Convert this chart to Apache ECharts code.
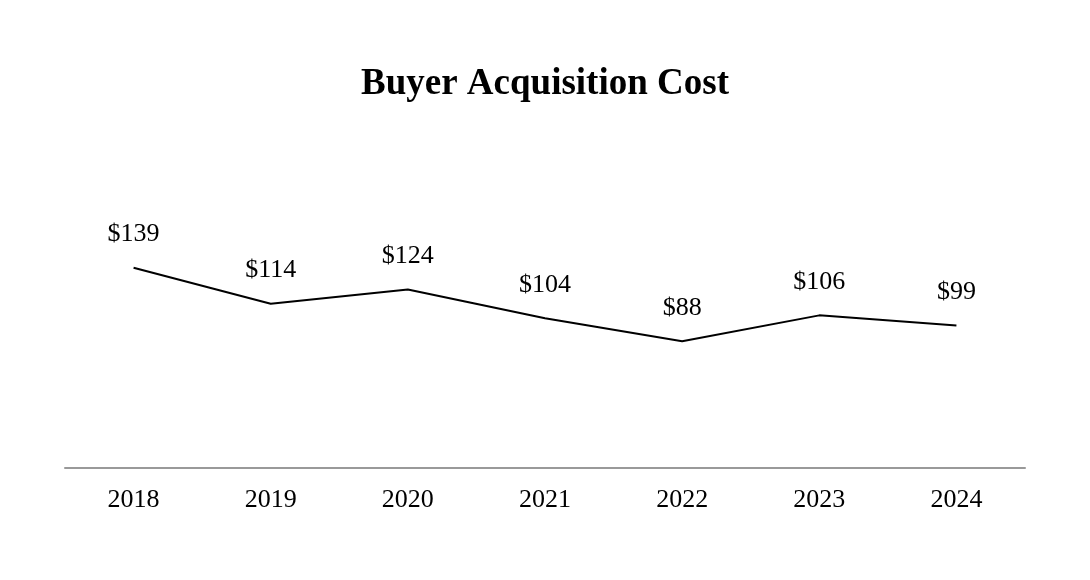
<!DOCTYPE html>
<html>
<head>
<meta charset="utf-8">
<script src="https://cdn.jsdelivr.net/npm/echarts@6/dist/echarts.min.js"></script>
<style>html,body{margin:0;padding:0;background:#fff;}#c{width:1090px;height:580px;}</style>
</head>
<body>
<div id="c"></div>
<script>
var years = ['2018','2019','2020','2021','2022','2023','2024'];
var costs = [139, 114, 124, 104, 88, 106, 99];
var chart = echarts.init(document.getElementById('c'));
chart.setOption({
  backgroundColor: '#ffffff',
  animation: false,
  title: {
    text: 'Buyer Acquisition Cost',
    left: 'center',
    top: 61,
    textStyle: {fontFamily: 'Liberation Serif', fontWeight: 'bold', fontSize: 37, color: '#000'}
  },
  grid: {left: 65, right: 65, top: 180, bottom: 112},
  xAxis: {
    type: 'category',
    data: years,
    boundaryGap: true,
    axisLine: {lineStyle: {color: '#999999', width: 2}},
    axisTick: {show: false},
    axisLabel: {fontFamily: 'Liberation Serif', fontSize: 26, color: '#000', margin: 19}
  },
  yAxis: {
    type: 'value', min: 0, max: 200, show: false,
    splitLine: {show: false}
  },
  series: [{
    type: 'line',
    data: costs,
    showSymbol: true,
    symbol: 'circle',
    symbolSize: 1,
    itemStyle: {color: 'transparent', borderWidth: 0},
    lineStyle: {color: '#000', width: 2},
    label: {
      show: true, position: 'top', distance: 20,
      fontFamily: 'Liberation Serif', fontSize: 26, color: '#000',
      formatter: function(p){ return '$' + p.value; }
    }
  }]
});
</script>
</body>
</html>
